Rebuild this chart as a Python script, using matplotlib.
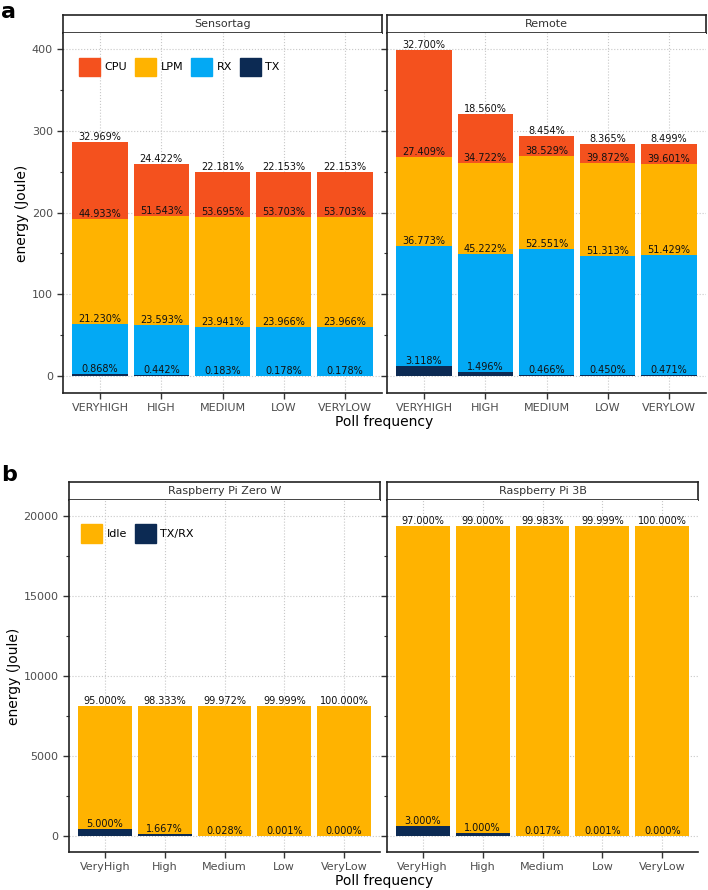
import matplotlib
matplotlib.use("Agg")
from matplotlib import pyplot as plt
from matplotlib.patches import Patch
from matplotlib.ticker import MultipleLocator

# ---- data ----
freq_upper = ["VERYHIGH", "HIGH", "MEDIUM", "LOW", "VERYLOW"]
freq_mixed = ["VeryHigh", "High", "Medium", "Low", "VeryLow"]

# total bar heights (Joule)
sensortag_total = [286.8, 259.8, 249.6, 249.6, 249.6]
remote_total = [398.7, 320.7, 293.7, 284.3, 284.3]

# percent shares of each bar
sensortag_cpu = [32.969, 24.422, 22.181, 22.153, 22.153]
sensortag_lpm = [44.933, 51.543, 53.695, 53.703, 53.703]
sensortag_rx = [21.230, 23.593, 23.941, 23.966, 23.966]
sensortag_tx = [0.868, 0.442, 0.183, 0.178, 0.178]

remote_cpu = [32.700, 18.560, 8.454, 8.365, 8.499]
remote_lpm = [27.409, 34.722, 38.529, 39.872, 39.601]
remote_rx = [36.773, 45.222, 52.551, 51.313, 51.429]
remote_tx = [3.118, 1.496, 0.466, 0.450, 0.471]

pizero_total = [8133, 8133, 8133, 8133, 8133]
pi3b_total = [19375, 19375, 19375, 19375, 19375]
pizero_idle = [95.000, 98.333, 99.972, 99.999, 100.000]
pizero_txrx = [5.000, 1.667, 0.028, 0.001, 0.000]
pi3b_idle = [97.000, 99.000, 99.983, 99.999, 100.000]
pi3b_txrx = [3.000, 1.000, 0.017, 0.001, 0.000]

c_cpu = "#F4511E"
c_lpm = "#FFB300"
c_rx = "#03A9F4"
c_tx = "#0C2A53"

W, H = 708, 890
fig = plt.figure(figsize=(W / 100, H / 100), dpi=100)


def px_axes(x0, y_top, x1, y_bot):
    return fig.add_axes([x0 / W, 1 - y_bot / H, (x1 - x0) / W, (y_bot - y_top) / H])


def make_panel(x0, x1, strip_top, strip_bot, ax_bot, title, ylim, major, minor, show_y):
    sax = px_axes(x0, strip_top, x1, strip_bot)
    sax.set_xticks([])
    sax.set_yticks([])
    for s in sax.spines.values():
        s.set_linewidth(1.2)
        s.set_color("#222222")
    sax.text(0.5, 0.5, title, ha="center", va="center", fontsize=8, color="#333333",
             transform=sax.transAxes)
    ax = px_axes(x0, strip_bot, x1, ax_bot)
    ax.set_xlim(0.4, 5.6)
    ax.set_ylim(*ylim)
    ax.yaxis.set_major_locator(MultipleLocator(major))
    ax.yaxis.set_minor_locator(MultipleLocator(minor))
    ax.spines["top"].set_visible(False)
    ax.spines["right"].set_visible(False)
    for s in ["left", "bottom"]:
        ax.spines[s].set_linewidth(1.2)
        ax.spines[s].set_color("#222222")
    ax.grid(True, which="major", linestyle=":", color="#c8c8c8", linewidth=0.8)
    ax.set_axisbelow(True)
    ax.tick_params(axis="both", which="major", length=4, width=1, color="#333333",
                   labelsize=8, labelcolor="#4D4D4D", direction="out")
    ax.tick_params(axis="y", which="minor", length=2.5, width=0.8, color="#333333")
    if not show_y:
        ax.tick_params(axis="y", which="both", labelleft=False)
    return ax


def stack(ax, names, total, shares, colors):
    x = list(range(1, len(names) + 1))
    bottom = [0.0] * len(names)
    for pct, col in zip(shares, colors):
        h = [t * p / 100 for t, p in zip(total, pct)]
        ax.bar(x, h, width=0.9, bottom=bottom, color=col, zorder=2)
        bottom = [b + v for b, v in zip(bottom, h)]
        for xi, top, p in zip(x, bottom, pct):
            ax.text(xi, top, f"{p:.3f}%", ha="center", va="bottom", fontsize=7,
                    color="#111111", zorder=3)
    ax.set_xticks(x)
    ax.set_xticklabels(names)


# ---- panel a ----
ylim_a = (-20.5, 419.6)
ax1 = make_panel(63.3, 381.7, 15, 33.3, 392.7, "Sensortag", ylim_a, 100, 50, True)
ax2 = make_panel(387.3, 705.7, 15, 33.3, 392.7, "Remote", ylim_a, 100, 50, False)
stack(ax1, freq_upper, sensortag_total,
      [sensortag_tx, sensortag_rx, sensortag_lpm, sensortag_cpu], [c_tx, c_rx, c_lpm, c_cpu])
stack(ax2, freq_upper, remote_total,
      [remote_tx, remote_rx, remote_lpm, remote_cpu], [c_tx, c_rx, c_lpm, c_cpu])
ax1.set_ylabel("energy (Joule)", fontsize=10)
ax1.yaxis.set_label_coords(-0.108, 0.5)
fig.text(384.5 / W, 1 - 422 / H, "Poll frequency", ha="center", va="center", fontsize=10)

handles = [Patch(color=c_cpu, label="CPU"), Patch(color=c_lpm, label="LPM"),
           Patch(color=c_rx, label="RX"), Patch(color=c_tx, label="TX")]
ax1.legend(handles=handles, loc="upper left", bbox_to_anchor=(0.036, 0.945), ncol=4,
           frameon=False, fontsize=8, handlelength=1.9, handleheight=2.2,
           handletextpad=0.4, columnspacing=0.7, borderaxespad=0)

# ---- panel b ----
ylim_b = (-1020, 20980)
ax3 = make_panel(69, 380, 482.3, 500.3, 852, "Raspberry Pi Zero W", ylim_b, 5000, 2500, True)
ax4 = make_panel(386.7, 698.3, 482.3, 500.3, 852, "Raspberry Pi 3B", ylim_b, 5000, 2500, False)
stack(ax3, freq_mixed, pizero_total, [pizero_txrx, pizero_idle], [c_tx, c_lpm])
stack(ax4, freq_mixed, pi3b_total, [pi3b_txrx, pi3b_idle], [c_tx, c_lpm])
ax3.set_ylabel("energy (Joule)", fontsize=10)
ax3.yaxis.set_label_coords(-0.155, 0.5)
fig.text(384 / W, 1 - 881 / H, "Poll frequency", ha="center", va="center", fontsize=10)

handles_b = [Patch(color=c_lpm, label="Idle"), Patch(color=c_tx, label="TX/RX")]
ax3.legend(handles=handles_b, loc="upper left", bbox_to_anchor=(0.024, 0.945), ncol=2,
           frameon=False, fontsize=8, handlelength=1.9, handleheight=2.2,
           handletextpad=0.4, columnspacing=0.7, borderaxespad=0)

fig.text(1 / W, 1 - 12 / H, "a", fontsize=16, fontweight="bold", va="center", ha="left")
fig.text(1 / W, 1 - 475 / H, "b", fontsize=16, fontweight="bold", va="center", ha="left")

fig.savefig("out.png", dpi=100)
